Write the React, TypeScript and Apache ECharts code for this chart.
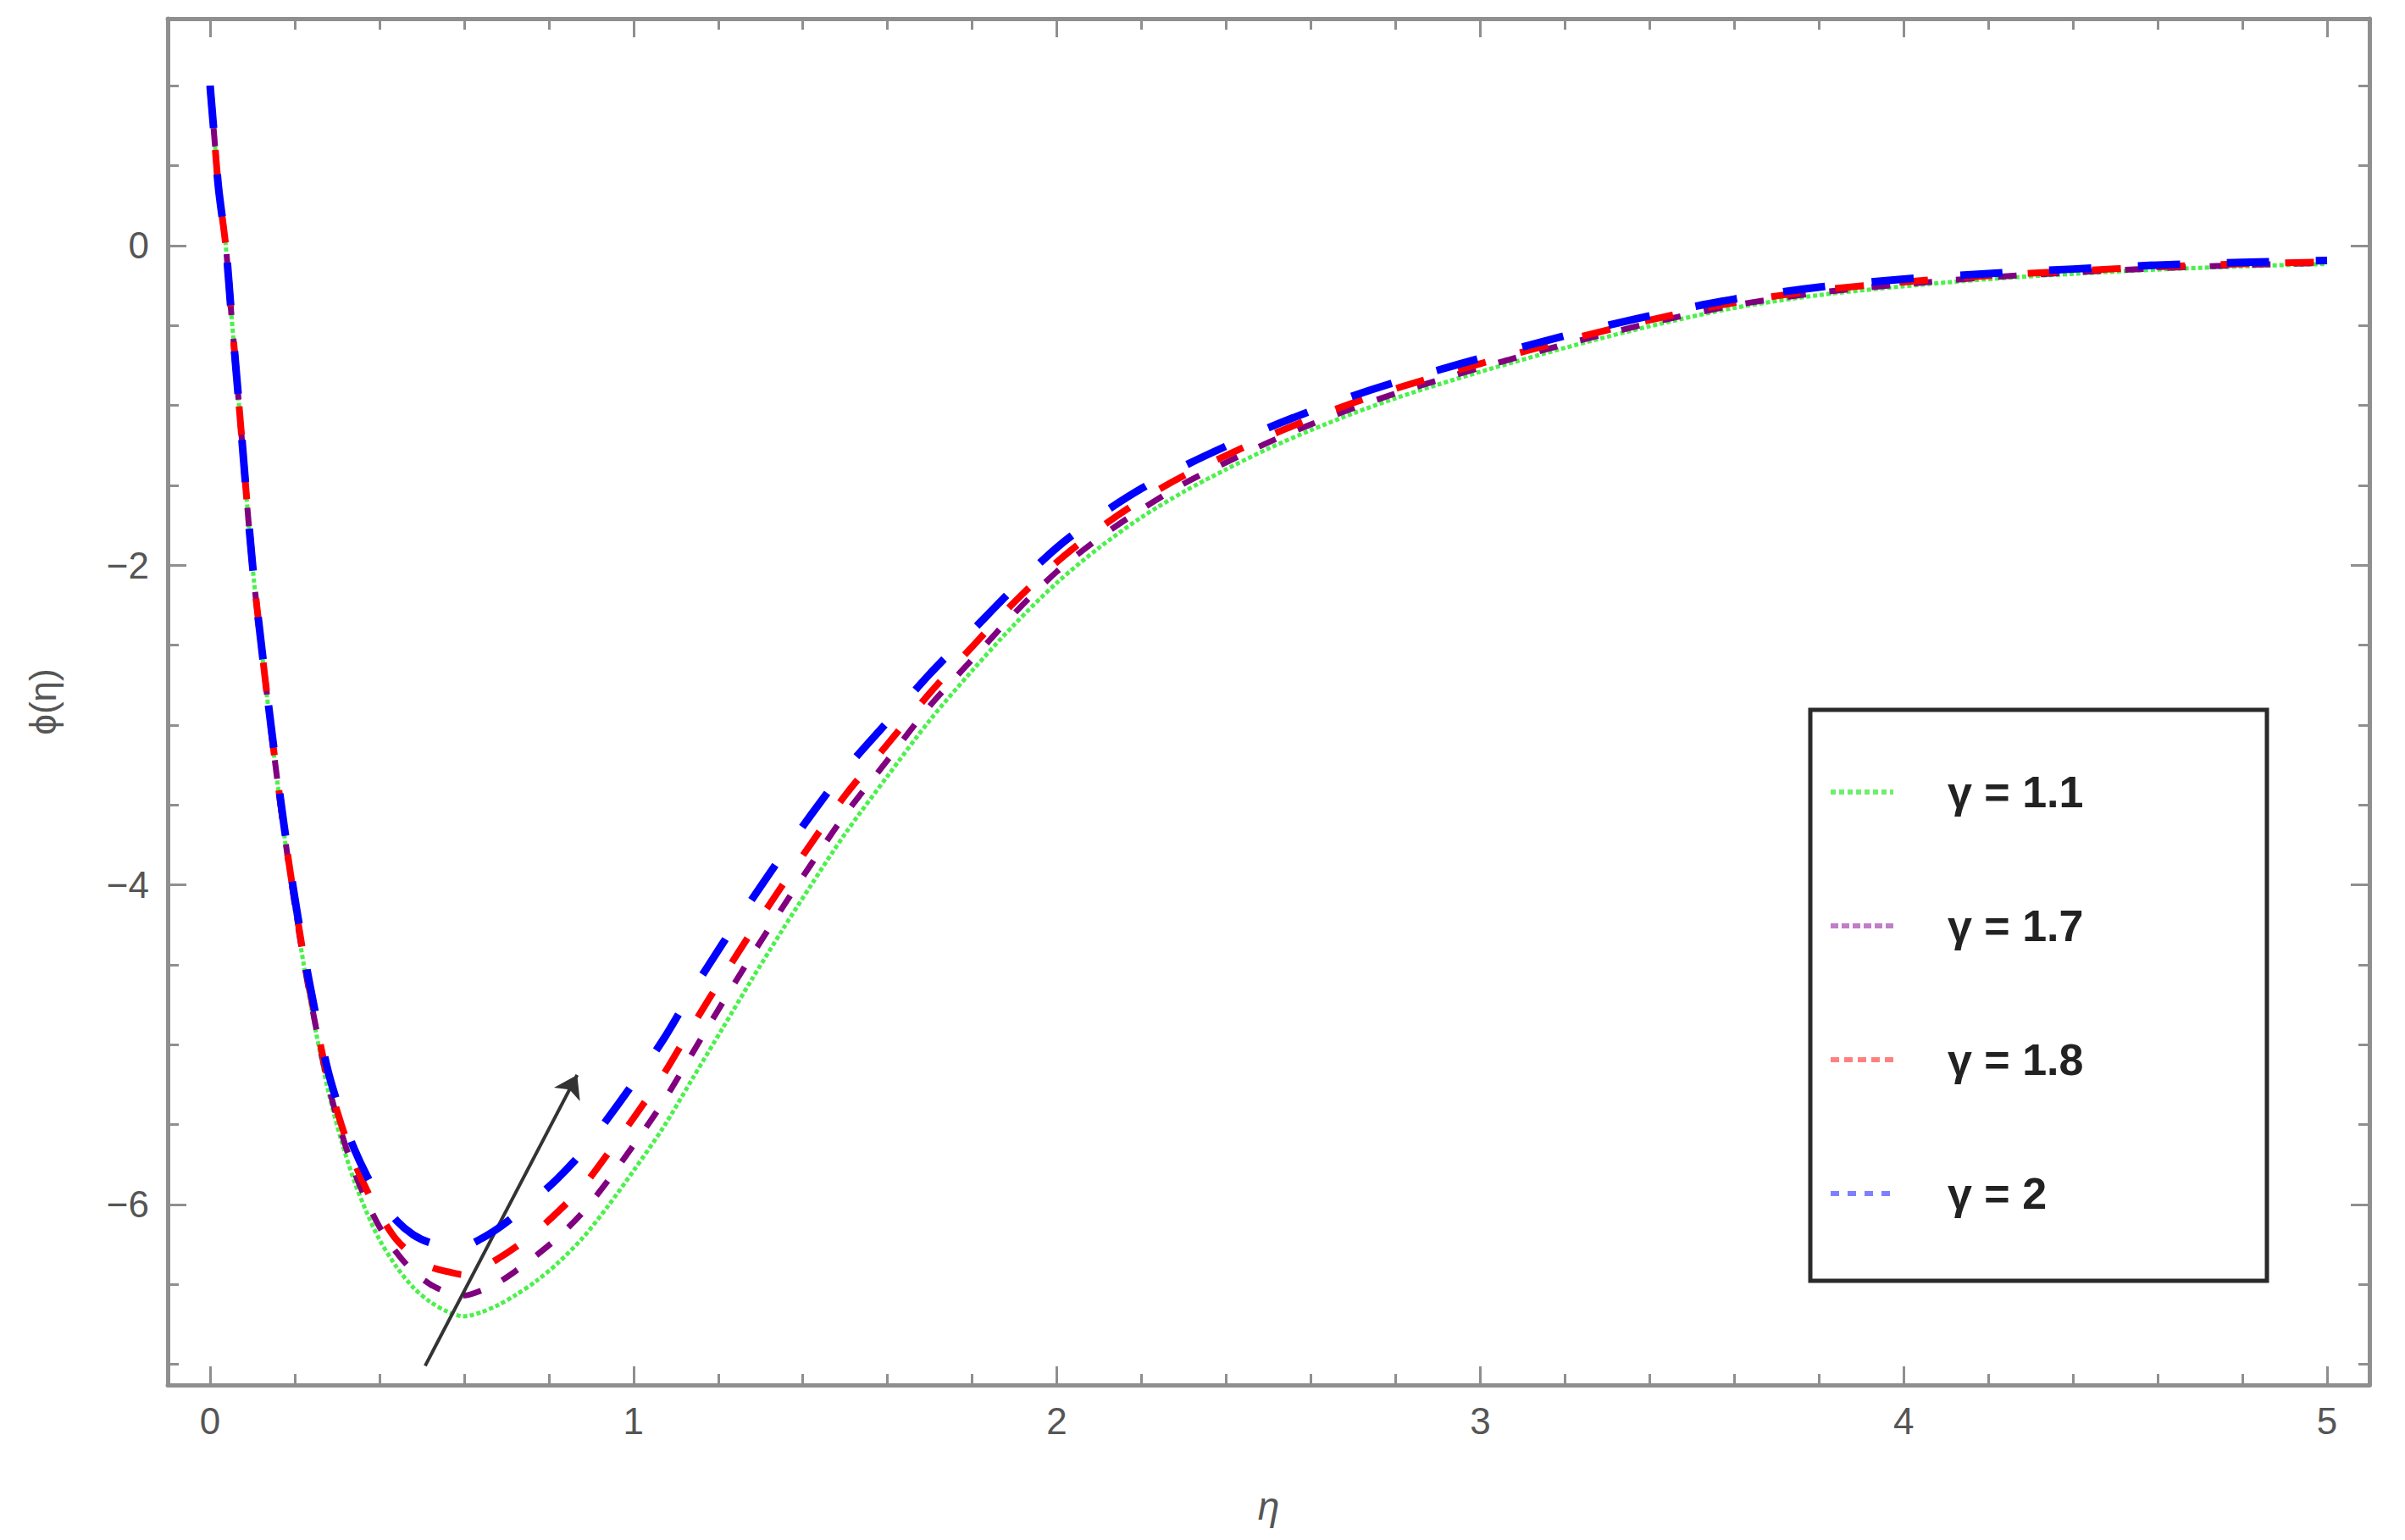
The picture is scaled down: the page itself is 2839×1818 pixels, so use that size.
import React, { useEffect, useRef } from "react";
import * as echarts from "echarts";

// η grid
const etaValues = [
  0, 0.01, 0.02, 0.037, 0.05, 0.07,
  0.1, 0.13, 0.16, 0.19, 0.22, 0.25, 0.28, 0.31, 0.34, 0.37,
  0.4, 0.44, 0.48, 0.52, 0.56, 0.6, 0.64, 0.68, 0.72, 0.77,
  0.82, 0.88, 0.94, 1.0, 1.07, 1.14, 1.21, 1.28, 1.35, 1.42,
  1.5, 1.6, 1.7, 1.8, 1.9, 2.0, 2.1, 2.2, 2.3, 2.4,
  2.5, 2.6, 2.7, 2.8, 2.9, 3.0, 3.2, 3.4, 3.6, 3.8,
  4.0, 4.2, 4.4, 4.6, 4.8, 5.0,
];

// φ(η) for γ = 1.1 (green, dotted)
const phiGamma11 = [
  1.0, 0.68, 0.36, 0.0, -0.42, -1.05,
  -2.0, -2.72, -3.38, -3.97, -4.48, -4.92, -5.3, -5.6, -5.85, -6.05,
  -6.22, -6.39, -6.52, -6.61, -6.67, -6.7, -6.675, -6.63, -6.57, -6.48,
  -6.37, -6.21, -6.01, -5.79, -5.52, -5.21, -4.9, -4.59, -4.29, -4.0,
  -3.68, -3.32, -2.97, -2.66, -2.37, -2.11, -1.89, -1.7, -1.54, -1.4,
  -1.27, -1.155, -1.05, -0.955, -0.87, -0.79, -0.64, -0.505, -0.39, -0.31,
  -0.255, -0.21, -0.177, -0.15, -0.13, -0.115,
];

// φ(η) for γ = 1.7 (purple)
const phiGamma17 = [
  1.0, 0.68, 0.36, 0.0, -0.42, -1.05,
  -2.0, -2.71, -3.37, -3.95, -4.46, -4.89, -5.26, -5.55, -5.79, -5.98,
  -6.14, -6.3, -6.42, -6.5, -6.55, -6.57, -6.54, -6.49, -6.42, -6.32,
  -6.21, -6.05, -5.85, -5.63, -5.36, -5.05, -4.74, -4.44, -4.15, -3.87,
  -3.56, -3.22, -2.88, -2.59, -2.3, -2.04, -1.83, -1.65, -1.49, -1.357,
  -1.231, -1.119, -1.017, -0.925, -0.843, -0.765, -0.618, -0.486, -0.374, -0.295,
  -0.242, -0.199, -0.168, -0.142, -0.122, -0.108,
];

// φ(η) for γ = 1.8 (red)
const phiGamma18 = [
  1.0, 0.68, 0.36, 0.0, -0.42, -1.05,
  -1.99, -2.71, -3.36, -3.93, -4.43, -4.86, -5.23, -5.5, -5.73, -5.91,
  -6.06, -6.22, -6.32, -6.39, -6.42, -6.44, -6.4, -6.34, -6.27, -6.17,
  -6.05, -5.89, -5.68, -5.46, -5.19, -4.88, -4.58, -4.29, -4.01, -3.74,
  -3.44, -3.12, -2.8, -2.51, -2.23, -1.98, -1.77, -1.59, -1.44, -1.313,
  -1.192, -1.083, -0.984, -0.895, -0.816, -0.739, -0.595, -0.466, -0.357, -0.28,
  -0.228, -0.189, -0.159, -0.133, -0.115, -0.102,
];

// φ(η) for γ = 2 (blue)
const phiGamma20 = [
  1.0, 0.68, 0.36, 0.0, -0.42, -1.045,
  -1.99, -2.7, -3.34, -3.91, -4.4, -4.82, -5.18, -5.44, -5.65, -5.82,
  -5.96, -6.1, -6.19, -6.24, -6.26, -6.26, -6.215, -6.15, -6.07, -5.96,
  -5.84, -5.67, -5.46, -5.24, -4.97, -4.66, -4.37, -4.09, -3.82, -3.56,
  -3.28, -2.98, -2.68, -2.41, -2.14, -1.89, -1.69, -1.52, -1.38, -1.255,
  -1.14, -1.035, -0.94, -0.855, -0.78, -0.705, -0.565, -0.44, -0.335, -0.26,
  -0.21, -0.175, -0.147, -0.122, -0.105, -0.093,
];

const seriesNames = ["γ = 1.1", "γ = 1.7", "γ = 1.8", "γ = 2"];
const seriesValues = [phiGamma11, phiGamma17, phiGamma18, phiGamma20];

// tick values
const xMajorTicks = [0, 1, 2, 3, 4, 5];
const xMinorTicks = [
  0.2, 0.4, 0.6, 0.8, 1.2, 1.4, 1.6, 1.8, 2.2, 2.4, 2.6, 2.8,
  3.2, 3.4, 3.6, 3.8, 4.2, 4.4, 4.6, 4.8,
];
const yMajorTicks = [0, -2, -4, -6];
const yMinorTicks = [1, 0.5, -0.5, -1, -1.5, -2.5, -3, -3.5, -4.5, -5, -5.5, -6.5, -7];

// annotation arrow (data coordinates)
const arrowStart = [0.508, -7.01];
const arrowEnd = [0.867, -5.19];

// styles
const lineColors = ["#4cf04c", "#800080", "#ff0000", "#0000ff"];
const lineWidths = [5, 7, 8, 9];
const lineDashes: number[][] = [[5, 3], [22, 28], [34, 42], [50, 55]];
const legendColors = ["#6cf06c", "#c07ec8", "#ff8080", "#8080ff"];
const legendDashes: number[][] = [[6, 4], [9, 4], [10, 6], [10, 10]];

const X_MIN = -0.1;
const X_MAX = 5.1;
const Y_MIN = -7.13;
const Y_MAX = 1.42;

const FONT = "'Liberation Sans', Arial, sans-serif";
const AXIS_COLOR = "#8f8f8f";
const LABEL_COLOR = "#555";

function fmtMinus(v: number) {
  return String(v).replace("-", "\u2212");
}

export default function App() {
  const ref = useRef<HTMLDivElement>(null);

  useEffect(() => {
    if (!ref.current) return;
    const chart = echarts.init(ref.current, undefined, { renderer: "svg" });

    const baseAxis = {
      type: "value" as const,
      splitLine: { show: false },
      minorTick: { show: false },
    };

    const tickAxis = (
      kind: "x" | "y",
      position: string,
      ticks: number[],
      len: number,
      showLine: boolean
    ) => ({
      ...baseAxis,
      min: kind === "x" ? X_MIN : Y_MIN,
      max: kind === "x" ? X_MAX : Y_MAX,
      position,
      axisLine: showLine
        ? { show: true, onZero: false, lineStyle: { color: AXIS_COLOR, width: 5 } }
        : { show: false, onZero: false },
      axisTick: {
        show: true,
        inside: true,
        length: len,
        customValues: ticks,
        lineStyle: { color: AXIS_COLOR, width: 3 },
      },
      axisLabel: { show: false },
    });

    const xAxes = [
      {
        ...tickAxis("x", "bottom", xMajorTicks, 22, true),
        axisLabel: {
          show: true,
          customValues: xMajorTicks,
          margin: 20,
          fontSize: 44,
          color: LABEL_COLOR,
          fontFamily: FONT,
        },
        name: "η",
        nameLocation: "middle",
        nameGap: 120,
        nameTextStyle: { fontSize: 46, color: LABEL_COLOR, fontFamily: FONT, fontStyle: "italic" },
      },
      tickAxis("x", "bottom", xMinorTicks, 13, false),
      tickAxis("x", "top", xMajorTicks, 22, true),
      tickAxis("x", "top", xMinorTicks, 13, false),
    ];

    const yAxes = [
      {
        ...tickAxis("y", "left", yMajorTicks, 22, true),
        axisLabel: {
          show: true,
          customValues: yMajorTicks,
          margin: 22,
          fontSize: 44,
          color: LABEL_COLOR,
          fontFamily: FONT,
          formatter: (v: number) => fmtMinus(v),
        },
        name: "ϕ(η)",
        nameLocation: "middle",
        nameGap: 126,
        nameRotate: 90,
        nameTextStyle: { fontSize: 44, color: LABEL_COLOR, fontFamily: FONT },
      },
      tickAxis("y", "left", yMinorTicks, 13, false),
      tickAxis("y", "right", yMajorTicks, 22, true),
      tickAxis("y", "right", yMinorTicks, 13, false),
    ];

    const series: any[] = seriesNames.map((name, i) => ({
      name,
      type: "line",
      xAxisIndex: 0,
      yAxisIndex: 0,
      data: etaValues.map((x, k) => [x, seriesValues[i][k]]),
      symbol: "none",
      showSymbol: false,
      smooth: 0.3,
      clip: true,
      z: 2 + i,
      lineStyle: {
        color: lineColors[i],
        width: lineWidths[i],
        type: lineDashes[i],
        cap: "butt",
      },
      itemStyle: { color: lineColors[i] },
      emphasis: { disabled: true },
    }));

    series[3].markLine = {
      silent: true,
      animation: false,
      symbol: ["none", "arrow"],
      symbolSize: 26,
      label: { show: false },
      lineStyle: { color: "#333", width: 4, type: "solid" },
      itemStyle: { color: "#222" },
      emphasis: { disabled: true },
      data: [[{ coord: arrowStart }, { coord: arrowEnd }]],
    };

    chart.setOption({
      animation: false,
      backgroundColor: "#ffffff",
      grid: {
        left: 198,
        right: 42,
        top: 22,
        bottom: 183,
        containLabel: false,
        outerBoundsMode: "none",
      },
      xAxis: xAxes,
      yAxis: yAxes,
      legend: {
        orient: "vertical",
        left: 2158,
        top: 909,
        itemWidth: 74,
        itemHeight: 20,
        itemGap: 106,
        padding: 0,
        z: 10,
        selectedMode: false,
        itemStyle: { opacity: 0 },
        textStyle: {
          fontSize: 52,
          fontWeight: "bold",
          color: "#222",
          fontFamily: FONT,
          padding: [0, 0, 0, 59],
        },
        data: seriesNames.map((name, i) => ({
          name,
          itemStyle: { opacity: 0 },
          lineStyle: { color: legendColors[i], width: 6, type: legendDashes[i] },
        })),
      },
      graphic: [
        {
          type: "rect",
          z: 1,
          shape: { x: 2137, y: 838, width: 539, height: 674 },
          style: { fill: "#ffffff", stroke: "#2a2a2a", lineWidth: 5 },
        },
      ],
      series,
    });

    return () => {
      chart.dispose();
    };
  }, []);

  return (
    <div
      ref={ref}
      style={{ position: "fixed", left: 0, top: 0, width: "2839px", height: "1818px" }}
    />
  );
}
